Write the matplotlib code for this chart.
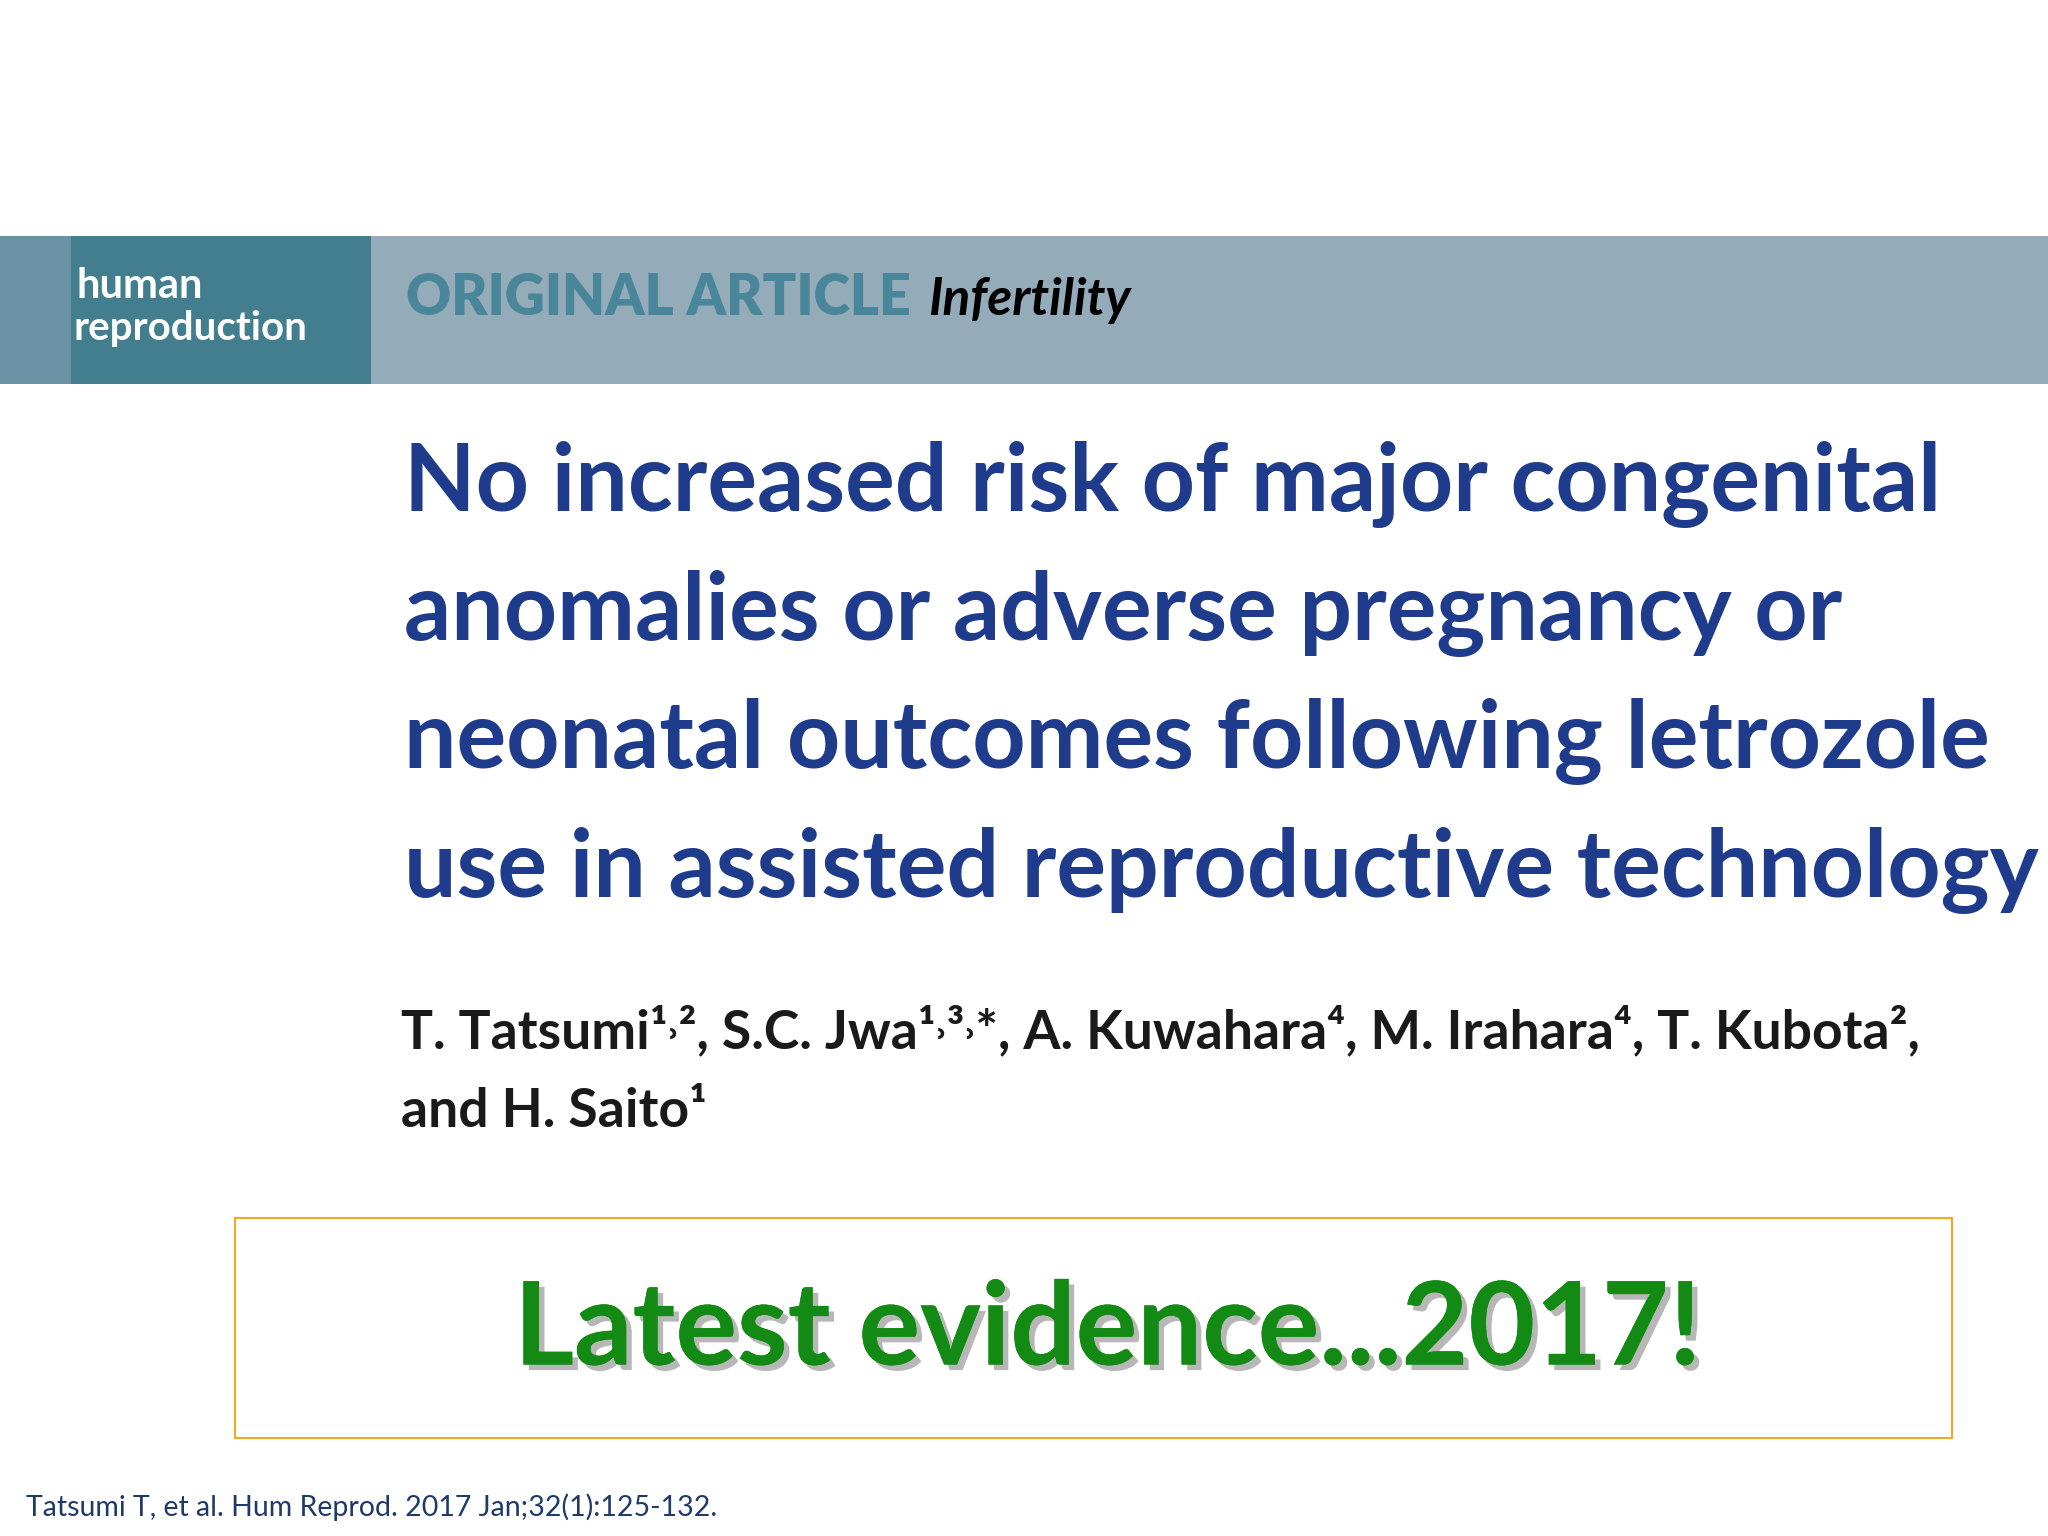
import matplotlib
matplotlib.use('Agg')
import matplotlib.pyplot as plt
from matplotlib.patches import Rectangle
import matplotlib.patheffects as pe

W, H = 1562.0, 1172.0  # layout measured on the reference, converted to fractions


def fx(x):
    return x / W


def fy(y):
    return 1 - y / H


journal = ['human', 'reproduction']
section = 'ORIGINAL ARTICLE'
subsection = 'Infertility'
title_lines = [
    'No increased risk of major congenital',
    'anomalies or adverse pregnancy or',
    'neonatal outcomes following letrozole',
    'use in assisted reproductive technology',
]
authors = [
    'T. Tatsumi\u00b9\u02d2\u00b2, S.C. Jwa\u00b9\u02d2\u00b3\u02d2*, A. Kuwahara\u2074, M. Irahara\u2074, T. Kubota\u00b2,',
    'and H. Saito\u00b9',
]
banner = 'Latest evidence...2017!'
citation = 'Tatsumi T, et al. Hum Reprod. 2017 Jan;32(1):125-132.'

plt.rcParams['font.family'] = ['Lato', 'DejaVu Sans']

fig = plt.figure(figsize=(20.48, 15.36), dpi=100)
fig.patch.set_facecolor('white')

# header band
fig.patches.append(Rectangle((0, fy(293)), 1, fy(180) - fy(293), transform=fig.transFigure,
                             facecolor='#94abba', edgecolor='none'))
fig.patches.append(Rectangle((0, fy(293)), fx(54), fy(180) - fy(293), transform=fig.transFigure,
                             facecolor='#6b93a5', edgecolor='none'))
fig.patches.append(Rectangle((fx(54), fy(293)), fx(283) - fx(54), fy(180) - fy(293),
                             transform=fig.transFigure, facecolor='#437e8f', edgecolor='none'))
fig.text(fx(58), fy(218), journal[0], color='white', fontsize=30, fontweight='bold', va='center')
fig.text(fx(56), fy(251), journal[1], color='white', fontsize=29, fontweight='bold', va='center')
fig.text(fx(310), fy(227), section, color='#4a8699', fontsize=40, fontweight='heavy', va='center')
fig.text(fx(708), fy(229), subsection, color='black', fontsize=37, fontweight='bold',
         style='italic', va='center')

for i, line in enumerate(title_lines):
    fig.text(fx(308), fy(370 + 98 * i), line, color='#1f3b8c', fontsize=67,
             fontweight='bold', va='center')

fig.text(fx(306), fy(787), authors[0], color='#1a1a1a', fontsize=38.5, fontweight='bold', va='center')
fig.text(fx(306), fy(848), authors[1], color='#1a1a1a', fontsize=38.5, fontweight='bold', va='center')

fig.patches.append(Rectangle((fx(179), fy(1097)), fx(1489) - fx(179), fy(929) - fy(1097),
                             transform=fig.transFigure, facecolor='none', edgecolor='#f5a623', lw=1.5))
fig.text(fx(845), fy(1016), banner, color='#138a13', fontsize=83, fontweight='bold',
         ha='center', va='center',
         path_effects=[pe.withSimplePatchShadow(offset=(4, -4), shadow_rgbFace='#888888', alpha=0.6),
                       pe.Normal()])

fig.text(fx(20), fy(1150), citation, color='#1f3a6a', fontsize=20.5, va='center')

fig.savefig('out.png', dpi=100)
